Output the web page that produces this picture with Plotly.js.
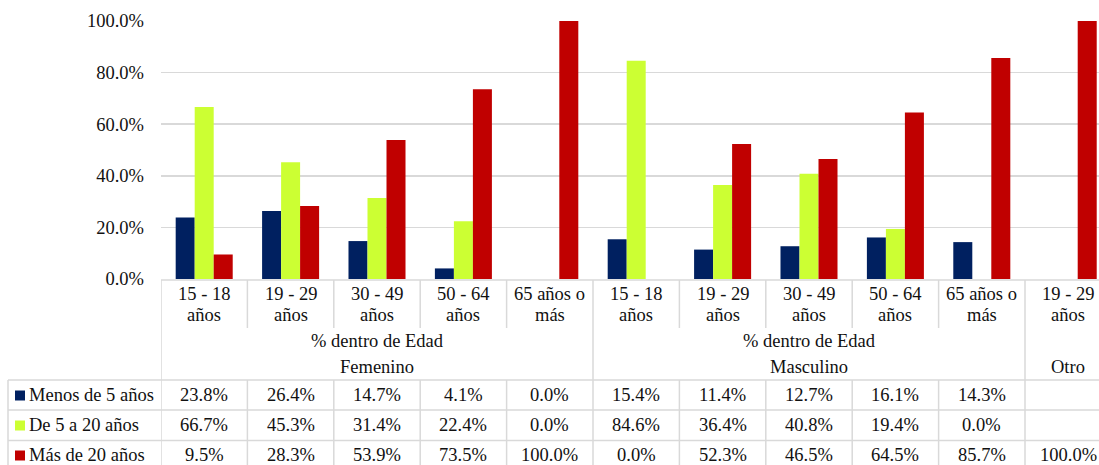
<!DOCTYPE html>
<html>
<head>
<meta charset="utf-8">
<script src="https://cdn.plot.ly/plotly-3.0.1.min.js"></script>
<style>
  html, body { margin: 0; padding: 0; background: #fff; font-family: 'Times New Roman', serif; }
  #chart { width: 1099px; height: 465px; }
</style>
</head>
<body>
<div id="chart"></div>
<script>
// Age brackets (x categories); "|" marks where the cell label wraps
const ageLabels = [
  '15 - 18|años', '19 - 29|años', '30 - 49|años', '50 - 64|años', '65 años o|más',
  '15 - 18|años', '19 - 29|años', '30 - 49|años', '50 - 64|años', '65 años o|más',
  '19 - 29|años'
];
// Outer grouping: sex, with the header shown above each group
const groupNames   = ['Femenino', 'Masculino', 'Otro'];
const groupHeaders = ['% dentro de Edad', '% dentro de Edad', ''];
const groupSizes   = [5, 5, 1];

// Series (percent within each age bracket)
const seriesNames  = ['Menos de 5 años', 'De 5 a 20 años', 'Más de 20 años'];
const seriesColors = ['#002060', '#CCFF33', '#C00000'];
const menos5   = [23.8, 26.4, 14.7, 4.1, 0.0, 15.4, 11.4, 12.7, 16.1, 14.3, null];
const de5a20   = [66.7, 45.3, 31.4, 22.4, 0.0, 84.6, 36.4, 40.8, 19.4, 0.0, null];
const mas20    = [9.5, 28.3, 53.9, 73.5, 100.0, 0.0, 52.3, 46.5, 64.5, 85.7, 100.0];
const seriesValues = [menos5, de5a20, mas20];

// Value axis ticks
const yTicks = [0, 20, 40, 60, 80, 100];

// ---- geometry of the plot area (pixels) ----
const chartW = 1099, chartH = 465;
const margins = { l: 161, r: 0, t: 21, b: 186 };
const plotW = chartW - margins.l - margins.r, plotH = chartH - margins.t - margins.b;
const colPx = 86.4;                       // width of one category column
const xIdx = ageLabels.map((_, i) => i);
const serifFamily = 'Times New Roman';
const fontSize = 18.5;
const ink = '#111';
const gridColor = '#D9D9D9';

// pixel -> paper helpers for the table drawn under the axis
const px = p => (p - margins.l) / plotW;
const py = p => (chartH - margins.b - p) / plotH;

const traces = seriesNames.map((name, s) => ({
  type: 'bar',
  name: name,
  x: xIdx,
  y: seriesValues[s],
  marker: { color: seriesColors[s], line: { width: 0 } },
  hoverinfo: 'skip'
}));

const shapes = [];
const annotations = [];
const addLine = (x0, y0, x1, y1, xref) => shapes.push({
  type: 'line', xref: xref || 'paper', yref: 'paper',
  x0: x0, y0: y0, x1: x1, y1: y1,
  line: { color: gridColor, width: 1.5 }
});
const addText = (t, x, y, xref, anchor) => annotations.push({
  text: t, x: x, y: y, xref: xref || 'x', yref: 'paper',
  xanchor: anchor || 'center', yanchor: 'middle', showarrow: false,
  font: { family: serifFamily, size: fontSize, color: ink }
});

// table rows (pixel rows)
const headTop = 280, labelBottom = 328, rowTops = [380, 410, 440.5], tableBottom = 470;
const rowCenters = [395, 425, 455];

// horizontal rules
addLine(px(161), py(headTop), 1, py(headTop));
rowTops.forEach(r => addLine(px(8), py(r), 1, py(r)));
addLine(px(8), py(tableBottom), 1, py(tableBottom));
// outer left borders
addLine(px(8), py(rowTops[0]), px(8), py(tableBottom));
addLine(-0.5, py(headTop), -0.5, py(tableBottom), 'x');

// column separators: full height at group edges, split around the group headers elsewhere
const groupEdges = [];
let acc = 0;
groupSizes.forEach(n => { acc += n; groupEdges.push(acc - 0.5); });
for (let i = 0; i < ageLabels.length; i++) {
  const xe = i + 0.5;
  if (groupEdges.includes(xe)) {
    addLine(xe, py(headTop), xe, py(tableBottom), 'x');
  } else {
    addLine(xe, py(headTop), xe, py(labelBottom), 'x');
    addLine(xe, py(rowTops[0]), xe, py(tableBottom), 'x');
  }
}

// category labels (two lines each)
ageLabels.forEach((lab, i) => {
  const parts = lab.split('|');
  addText(parts[0], i, py(293.5));
  addText(parts[1], i, py(315));
});

// group headers
let start = 0;
groupNames.forEach((g, k) => {
  const mid = start + (groupSizes[k] - 1) / 2;
  if (groupHeaders[k]) addText(groupHeaders[k], mid, py(341));
  addText(g, mid, py(366.5));
  start += groupSizes[k];
});

// legend keys and data cells
seriesNames.forEach((name, s) => {
  const cy = rowCenters[s];
  shapes.push({
    type: 'rect', xref: 'paper', yref: 'paper',
    x0: px(15), x1: px(25), y0: py(cy + 5.5), y1: py(cy - 4.5),
    fillcolor: seriesColors[s], line: { width: 0 }
  });
  addText(name, px(27), py(cy), 'paper', 'left');
  seriesValues[s].forEach((v, i) => {
    if (v !== null) addText(v.toFixed(1) + '%', i, py(cy));
  });
});

const layout = {
  width: chartW, height: chartH,
  margin: margins,
  paper_bgcolor: '#fff', plot_bgcolor: '#fff',
  showlegend: false,
  barmode: 'group',
  bargap: 0.34,
  bargroupgap: 0,
  font: { family: serifFamily, size: fontSize, color: ink },
  xaxis: {
    range: [-0.5, -0.5 + plotW / colPx],
    showticklabels: false, showgrid: false, zeroline: false,
    showline: false, ticks: '', fixedrange: true
  },
  yaxis: {
    range: [0, 100],
    tickmode: 'array',
    tickvals: yTicks,
    ticktext: yTicks.map(v => v.toFixed(1) + '%'),
    showgrid: true, gridcolor: gridColor, gridwidth: 1.5,
    zeroline: false, showline: false, ticks: '',
    ticklabelstandoff: 16,
    tickfont: { family: serifFamily, size: fontSize, color: ink },
    fixedrange: true
  },
  shapes: shapes,
  annotations: annotations
};

Plotly.newPlot('chart', traces, layout, { displayModeBar: false, staticPlot: true });
</script>
</body>
</html>
